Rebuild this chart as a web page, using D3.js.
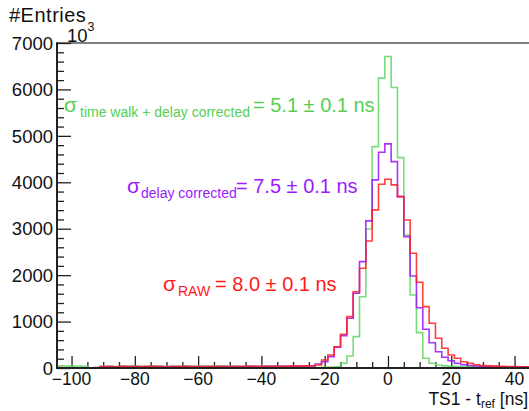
<!DOCTYPE html>
<html>
<head>
<meta charset="utf-8">
<script src="https://cdn.jsdelivr.net/npm/d3@7"></script>
<style>
  html, body { margin: 0; padding: 0; background: #fff; }
  svg { display: block; font-family: "Liberation Sans", Arial, sans-serif; }
</style>
</head>
<body>
<svg id="chart" width="529" height="411"></svg>
<script>
// ---- Data ----
const binLow = -105;      // lower edge of first bin [ns]
const binWidth = 2;       // bin width [ns]
const xDomain = [-104.6, 45.2];
const yDomain = [0, 7000];
const xTicksMajor = [-100, -80, -60, -40, -20, 0, 20, 40];
const yTicksMajor = [0, 1000, 2000, 3000, 4000, 5000, 6000, 7000];

// bin contents, bins centred at -104, -102, ..., 44
const rawCounts = [
  8, 6, 5, 6, 5, 6, 8,
  30, 32, 28, 34, 30, 33, 29, 31, 35, 30, 28, 32, 30, 34, 31, 29, 33, 30, 32, 35, 31, 30, 33, 36, 34, 32, 35, 37, 36, 38, 40, 42, 45,
  50, 65, 172, 280, 459, 726, 1106, 1643, 2149, 2737, 3405, 3959,
  4067,
  3944, 3692, 3189, 2472, 1847, 1321, 963, 640, 425, 280, 209, 136, 101, 71, 54, 45, 40, 35, 32, 30, 28, 26
];
const delayCounts = [
  5, 4, 5, 4, 5, 6, 5,
  28, 30, 27, 32, 29, 31, 28, 30, 33, 29, 27, 31, 29, 32, 30, 28, 31, 29, 30, 33, 30, 29, 32, 34, 33, 31, 34, 36, 35, 37, 40, 41, 44,
  45, 86, 136, 244, 446, 696, 1071, 1610, 2291, 3168, 4051, 4648,
  4827,
  4446, 3692, 2830, 1983, 1299, 834, 545, 351, 231, 157, 101, 71, 54, 43, 37, 33, 30, 28, 26, 25, 24, 22
];
const walkCounts = [
  42, 45, 40, 44, 38, 5, 4,
  35, 38, 33, 36, 34, 40, 37, 35, 39, 36, 33, 38, 35, 41, 37, 34, 38, 36, 40, 37, 35, 39, 36, 34, 38, 35, 33, 36, 34, 30, 28, 25, 22,
  10, 12, 15, 20, 28, 101, 259, 675, 1536, 2995, 4769, 6243,
  6709,
  6040, 4532, 2866, 1573, 761, 209, 101, 65, 45, 35, 30, 28, 25, 22, 20, 18, 15, 14, 12, 10, 10, 8
];

const seriesNames = ["time walk + delay corrected", "delay corrected", "RAW"];
const seriesColors = ["#64d564", "#9b10ff", "#ff1f1f"];
const textColors = ["#55cf55", "#9a1aff", "#ff1a1a"];
const sigmaLabels = ["= 5.1 ± 0.1 ns", "= 7.5 ± 0.1 ns", "= 8.0 ± 0.1 ns"];

// ---- Layout ----
const svg = d3.select("#chart");
const L = 57, R = 531, T = 43, B = 368;
const x = d3.scaleLinear().domain(xDomain).range([L, R]);
const y = d3.scaleLinear().domain(yDomain).range([B, T]);

svg.append("defs").append("clipPath").attr("id", "clip")
  .append("rect").attr("x", L).attr("y", T - 1).attr("width", R - L).attr("height", B - T + 1);

// frame top line
svg.append("line").attr("x1", L).attr("x2", R).attr("y1", T).attr("y2", T)
  .attr("stroke", "#555").attr("stroke-width", 1.6);

// ---- Y axis (ticks inward) ----
const yAxis = d3.axisRight(y).tickValues(yTicksMajor).tickSize(14).tickFormat("");
const gy = svg.append("g").attr("transform", `translate(${L},0)`).call(yAxis);
gy.select(".domain").remove();
gy.selectAll(".tick line").attr("stroke", "#222").attr("stroke-width", 1.3);
const yMinor = d3.range(0, 7001, 200).filter(v => v % 1000 !== 0);
const yAxisMinor = d3.axisRight(y).tickValues(yMinor).tickSize(7).tickFormat("");
const gym = svg.append("g").attr("transform", `translate(${L},0)`).call(yAxisMinor);
gym.select(".domain").remove();
gym.selectAll(".tick line").attr("stroke", "#222").attr("stroke-width", 1.3);
// y labels
svg.append("g").selectAll("text").data(yTicksMajor).join("text")
  .attr("x", 53).attr("y", d => y(d)).attr("dy", "0.36em")
  .attr("text-anchor", "end").attr("font-size", 18.5).attr("fill", "#111")
  .text(d => d);

// ---- X axis (ticks upward) ----
const xMinor = d3.range(-100, 46, 5).filter(v => v % 20 !== 0);
const xAxisMajor = d3.axisTop(x).tickValues(xTicksMajor).tickSize(12).tickFormat("");
const gx = svg.append("g").attr("transform", `translate(0,${B})`).call(xAxisMajor);
gx.select(".domain").remove();
gx.selectAll(".tick line").attr("stroke", "#222").attr("stroke-width", 1.3);
const xAxisMinor = d3.axisTop(x).tickValues(xMinor).tickSize(6).tickFormat("");
const gxm = svg.append("g").attr("transform", `translate(0,${B})`).call(xAxisMinor);
gxm.select(".domain").remove();
gxm.selectAll(".tick line").attr("stroke", "#222").attr("stroke-width", 1.3);
svg.append("g").selectAll("text").data(xTicksMajor).join("text")
  .attr("x", d => x(d)).attr("y", 384.5)
  .attr("text-anchor", "middle").attr("font-size", 17.5).attr("fill", "#111")
  .text(d => d < 0 ? "\u2212" + Math.abs(d) : d);

// ---- Histograms ----
function stepPoints(counts) {
  const pts = counts.map((c, i) => [binLow + i * binWidth, c]);
  pts.push([binLow + counts.length * binWidth, counts[counts.length - 1]]);
  return pts;
}
const line = d3.line().x(d => x(d[0])).y(d => y(d[1])).curve(d3.curveStepAfter);
const hg = svg.append("g").attr("clip-path", "url(#clip)");
[walkCounts, delayCounts, rawCounts].forEach((counts, k) => {
  hg.append("path").attr("d", line(stepPoints(counts)))
    .attr("fill", "none").attr("stroke", seriesColors[k])
    .attr("stroke-width", 1.6).attr("stroke-opacity", 0.85)
    .attr("stroke-linejoin", "miter");
});

// axis lines on top
svg.append("line").attr("x1", L).attr("x2", L).attr("y1", T - 0.8).attr("y2", B + 1)
  .attr("stroke", "#222").attr("stroke-width", 2);
svg.append("line").attr("x1", L - 1).attr("x2", R).attr("y1", B).attr("y2", B)
  .attr("stroke", "#222").attr("stroke-width", 2);

// ---- Titles ----
svg.append("text").attr("x", 9).attr("y", 22).attr("font-size", 20).attr("letter-spacing", 0.5)
  .attr("fill", "#111").text("#Entries");
const pw = svg.append("text").attr("x", 67).attr("y", 42).attr("font-size", 18.5).attr("fill", "#111");
pw.append("tspan").text("10");
pw.append("tspan").attr("dy", -11).attr("font-size", 12.5).text("3");

const xt = svg.append("text").attr("x", 528).attr("y", 404.5).attr("text-anchor", "end")
  .attr("font-size", 17.5).attr("fill", "#111");
xt.append("tspan").text("TS1 - t");
xt.append("tspan").attr("dy", 3).attr("font-size", 12).text("ref");
xt.append("tspan").attr("dy", -3).text("\u00a0[ns]");

// ---- Sigma annotations ----
const ann = [
  { sx: 64, subx: 80, mx: 253, base: 112 },
  { sx: 127, subx: 141, mx: 236, base: 193 },
  { sx: 163, subx: 178, mx: 215, base: 291 }
];
ann.forEach((a, k) => {
  const g = svg.append("g").attr("fill", textColors[k]);
  g.append("text").attr("x", a.sx).attr("y", a.base).attr("font-size", 21).text("\u03c3");
  g.append("text").attr("x", a.subx).attr("y", a.base + 5).attr("font-size", 14).text(seriesNames[k]);
  g.append("text").attr("x", a.mx).attr("y", a.base).attr("font-size", 20).text(sigmaLabels[k]);
});
</script>
</body>
</html>
